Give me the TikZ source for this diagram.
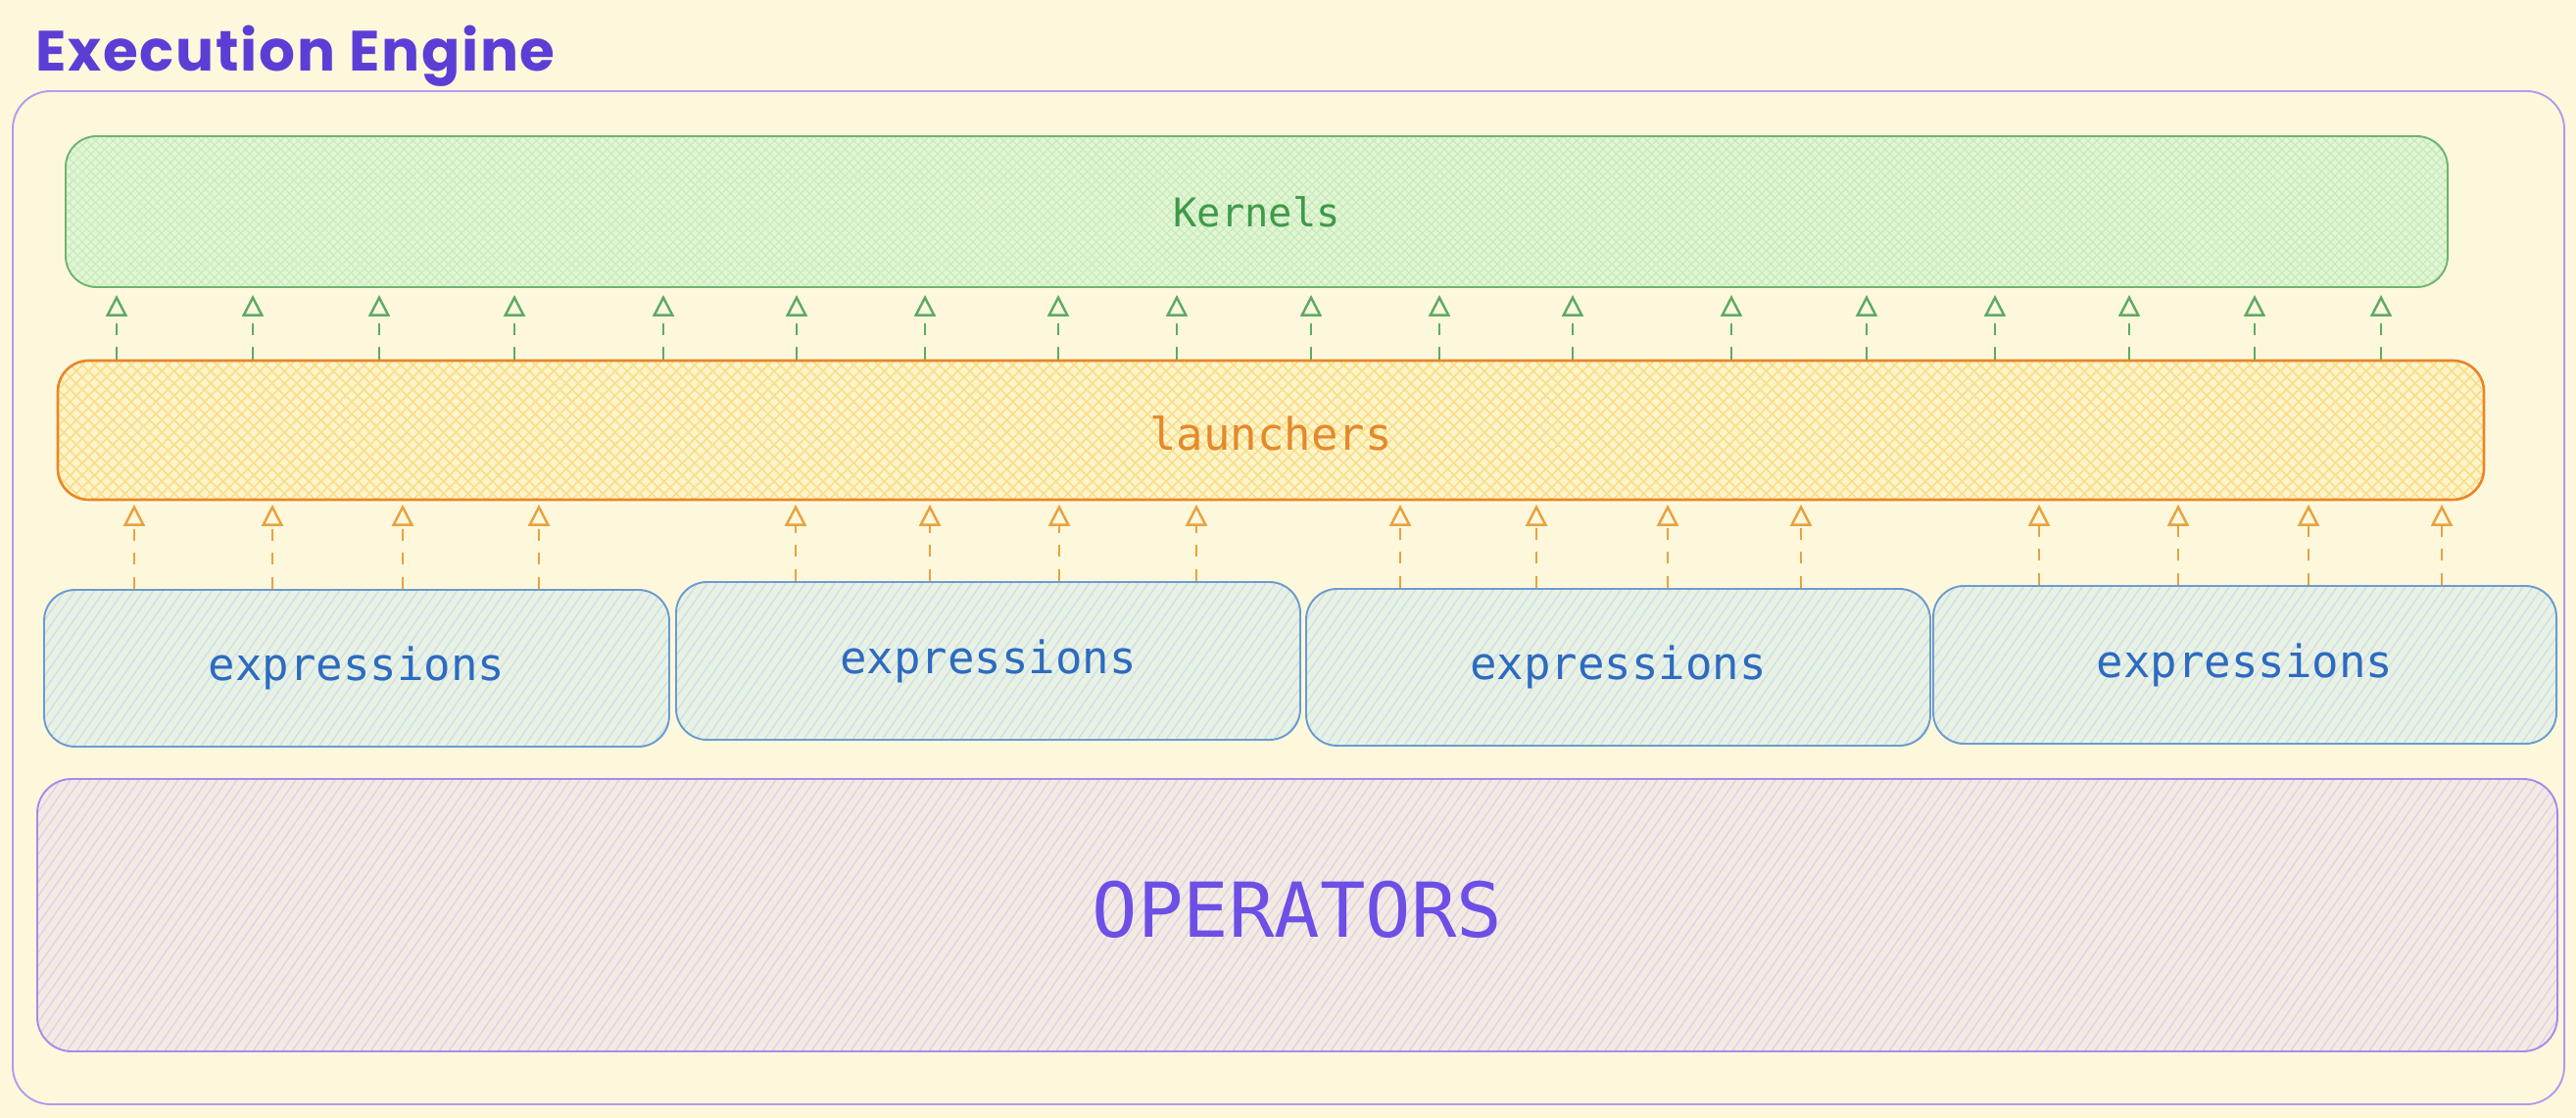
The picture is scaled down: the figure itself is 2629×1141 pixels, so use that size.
\documentclass[tikz,border=0pt]{standalone}
\usepackage{fontspec}
\setmainfont{DejaVu Sans Mono}
\newfontfamily\titlefont{Poppins}
\usetikzlibrary{arrows.meta,fit}
\definecolor{bg}{HTML}{FDF8DC}
\definecolor{outerc}{HTML}{B29CEE}
\definecolor{titlec}{HTML}{5C3ED6}
\definecolor{kstroke}{HTML}{6FB472}
\definecolor{kfill}{HTML}{E2F5D5}
\definecolor{khatch}{HTML}{C6EBBA}
\definecolor{ktext}{HTML}{3F9A48}
\definecolor{lstroke}{HTML}{E8862A}
\definecolor{lfill}{HTML}{FDF4CC}
\definecolor{lhatch}{HTML}{F9DE86}
\definecolor{ltext}{HTML}{E4892C}
\definecolor{estroke}{HTML}{6B9BD0}
\definecolor{efill}{HTML}{E8F1E2}
\definecolor{ehatch}{HTML}{CCE1EC}
\definecolor{etext}{HTML}{2D6BC0}
\definecolor{ostroke}{HTML}{A48CEB}
\definecolor{ofill}{HTML}{F3EBE0}
\definecolor{ohatch}{HTML}{DFD2EF}
\definecolor{otext}{HTML}{6E4FE6}
\definecolor{garrc}{HTML}{5FAA64}
\definecolor{oarrc}{HTML}{E9A13F}
\begin{document}
\begin{tikzpicture}[x=0.02cm,y=-0.02cm,
  box/.style={draw, rounded corners=18pt, inner sep=0pt, line width=1.1pt},
  diaghatch/.style={path picture={%
    \draw[#1, line width=0.8pt] \foreach \i in {0,...,290}{
      ([xshift=\i*0.2cm-5cm]path picture bounding box.south west) -- ++(55:12cm)};}},
  crosshatch/.style n args={3}{path picture={%
    \draw[#1, line width=#2] \foreach \i in {0,...,400}{
      ([xshift=\i*#3-4cm]path picture bounding box.south west) -- ++(45:8cm)};
    \draw[#1, line width=#2] \foreach \i in {0,...,400}{
      ([xshift=\i*#3]path picture bounding box.south west) -- ++(135:8cm)};}},
  lbl/.style={inner sep=0pt, anchor=center},
  arrbase/.style={line width=1.4pt, dash pattern=on 7pt off 7pt,
    -{Triangle[open,length=12.5pt,width=12.5pt,line width=1.4pt]}},
  garr/.style={arrbase, draw=garrc, shorten >=4pt},
  oarr/.style={arrbase, draw=oarrc, shorten >=2pt}
]
\fill[bg] (0,0) rectangle (2629,1141);
\useasboundingbox (0,0) rectangle (2629,1141);

% outer container and title
\node[box, draw=outerc, rounded corners=22pt, fit={(13,93) (2617,1127)}] (EE) {};
\node[anchor=base west, text=titlec, font=\titlefont\bfseries\fontsize{33}{36}\selectfont\addfontfeatures{LetterSpace=3}] (T) at (30,73) {Execution Engine};

% kernels
\node[box, draw=kstroke, fill=kfill, crosshatch={khatch}{0.6pt}{0.18cm},
  fit={(67,139) (2498,293)}] (K) {};
\node[lbl, text=ktext, font=\fontsize{23}{26}\selectfont] (Kt) at (K.center) {Kernels};

% launchers
\node[box, draw=lstroke, fill=lfill, line width=1.5pt, crosshatch={lhatch}{0.9pt}{0.25cm},
  fit={(59,368) (2535,510)}] (L) {};
\node[lbl, text=ltext, font=\fontsize{26}{30}\selectfont] (Lt) at ([yshift=-2pt]L.center) {launchers};

% expressions
\tikzset{exprbox/.style={box, draw=estroke, fill=efill, diaghatch=ehatch},
  exprtext/.style={lbl, text=etext, font=\fontsize{26}{30}\selectfont}}
\node[exprbox, fit={(45,602) (683,762)}] (E1) {};
\node[exprbox, fit={(690,594) (1327,755)}] (E2) {};
\node[exprbox, fit={(1333,601) (1970,761)}] (E3) {};
\node[exprbox, fit={(1973,598) (2609,759)}] (E4) {};
\foreach \e in {E1,E2,E3,E4}{
  \node[exprtext] (\e t) at (\e.center) {expressions};
}

% operators
\node[box, draw=ostroke, fill=ofill, diaghatch=ohatch, rounded corners=20pt,
  fit={(38,795) (2610,1073)}] (OP) {};
\node[lbl, text=otext, font=\fontsize{44}{50}\selectfont] (OPt) at ([yshift=3pt]OP.center) {OPERATORS};

% launchers -> kernels
\foreach \x [count=\n] in {119,258,387,525,677,813,944,1080,1201,1338,1469,1605,1767,1905,2036,2173,2301,2430}{
  \coordinate (g\n) at (\x,0);
  \draw[garr] (L.north -| g\n) -- (K.south -| g\n);
}

% expressions -> launchers
\foreach \x/\e [count=\n] in {137/E1,278/E1,411/E1,550/E1,812/E2,949/E2,1081/E2,1221/E2,1429/E3,1568/E3,1702/E3,1838/E3,2081/E4,2223/E4,2356/E4,2492/E4}{
  \coordinate (o\n) at (\x,0);
  \draw[oarr] (\e.north -| o\n) -- (L.south -| o\n);
}
\end{tikzpicture}
\end{document}
